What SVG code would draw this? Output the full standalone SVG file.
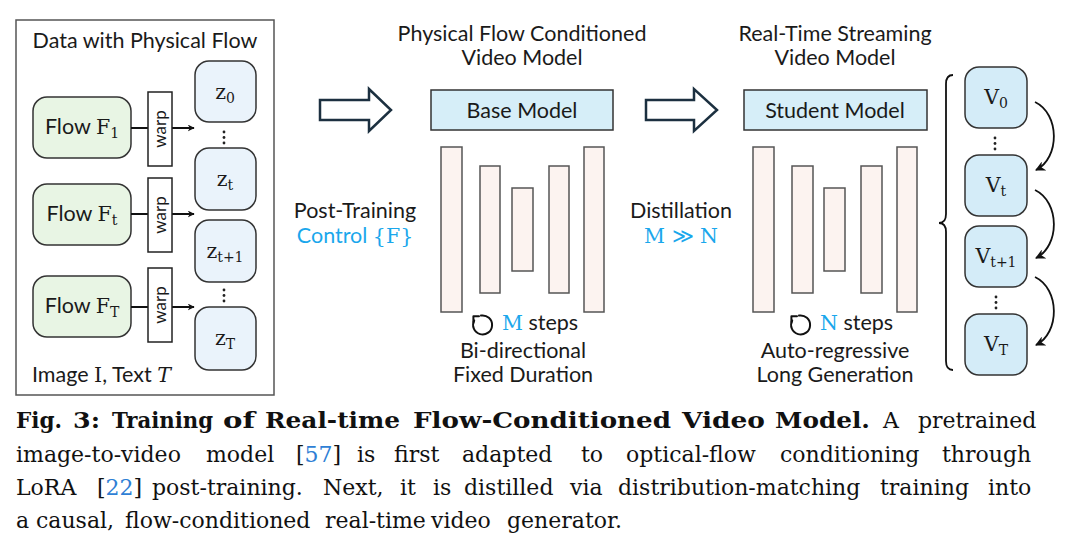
<svg xmlns="http://www.w3.org/2000/svg" width="1075" height="549" viewBox="0 0 1075 549">
<style>
.sans{font-family:Lato,"Open Sans",sans-serif;font-size:21.5px;fill:#1a1a1a}
.warpt{font-family:Lato,"Open Sans",sans-serif;font-size:17px;fill:#1a1a1a}
.math{font-family:"DejaVu Serif",serif;font-size:20.5px;fill:#1a1a1a}
.sub{font-size:14px}
.blue{fill:#1aa7ec}
.cap{font-family:"DejaVu Serif",serif;font-size:22px;fill:#111}
.capb{font-family:"DejaVu Serif",serif;font-size:22px;font-weight:bold;fill:#111}
.cite{fill:#2f7fd5}
.flow{fill:#e8f5e4;stroke:#333;stroke-width:1.5}
.zbox{fill:#eaf3fb;stroke:#333;stroke-width:1.5}
.vbox{fill:#d4ecf8;stroke:#333;stroke-width:1.5}
.warp{fill:#fff;stroke:#222;stroke-width:1.5}
.model{fill:#d6eef8;stroke:#333;stroke-width:1.5}
.bar{fill:#fcf3f0;stroke:#555;stroke-width:1.5}
.hollow{fill:#fff;stroke:#1c3040;stroke-width:2.5;stroke-linejoin:miter}
.line{fill:none;stroke:#111;stroke-width:1.8}
.dot{fill:#222}
.icon{fill:none;stroke:#111;stroke-width:2;stroke-linecap:round;stroke-linejoin:round}
</style>
<defs>
<marker id="ah" viewBox="0 0 10 10" refX="9" refY="5" markerWidth="7" markerHeight="7" orient="auto" markerUnits="userSpaceOnUse">
<path d="M0,0 L10,5 L0,10 L3,5 z" fill="#111"/>
</marker>
<marker id="ah2" viewBox="0 0 10 10" refX="9" refY="5" markerWidth="10" markerHeight="10" orient="auto" markerUnits="userSpaceOnUse">
<path d="M0,0 L10,5 L0,10 L3,5 z" fill="#111"/>
</marker>
</defs>
<rect width="1075" height="549" fill="#fff"/>

<g id="data-panel">
<rect x="16" y="20" width="258" height="375" fill="none" stroke="#555" stroke-width="1.5"/>
<text class="sans" x="145" y="48" text-anchor="middle">Data with Physical Flow</text>
<text x="32" y="382" class="sans">Image <tspan class="math">I</tspan>, Text <tspan class="math" font-style="italic">T</tspan></text>
</g>

<g id="flow-1">
<rect class="flow" x="33" y="97" width="98" height="61" rx="14"/>
<text x="82" y="134" text-anchor="middle"><tspan class="sans">Flow </tspan><tspan class="math">F</tspan><tspan class="math sub" dy="4">1</tspan></text>
</g>
<g id="flow-t">
<rect class="flow" x="33" y="184" width="98" height="61" rx="14"/>
<text x="82" y="221" text-anchor="middle"><tspan class="sans">Flow </tspan><tspan class="math">F</tspan><tspan class="math sub" dy="4">t</tspan></text>
</g>
<g id="flow-T">
<rect class="flow" x="33" y="276" width="98" height="61" rx="14"/>
<text x="82" y="313" text-anchor="middle"><tspan class="sans">Flow </tspan><tspan class="math">F</tspan><tspan class="math sub" dy="4">T</tspan></text>
</g>

<g id="connectors">
<line class="line" x1="131" y1="128" x2="194" y2="128" marker-end="url(#ah)"/>
<line class="line" x1="131" y1="214" x2="194" y2="214" marker-end="url(#ah)"/>
<line class="line" x1="131" y1="307" x2="194" y2="307" marker-end="url(#ah)"/>
<path class="line" d="M1035,102 C1060,114 1060,158 1036,170" marker-end="url(#ah2)"/>
<path class="line" d="M1035,190 C1060,202 1060,246 1036,258" marker-end="url(#ah2)"/>
<path class="line" d="M1035,277 C1060,289 1060,333 1036,345" marker-end="url(#ah2)"/>
<polygon class="hollow" points="320,100 369,100 369,89 391,110 369,131 369,120 320,120"/>
<polygon class="hollow" points="646,100 694,100 694,89 717,110 694,131 694,120 646,120"/>
</g>

<g id="warp-1">
<rect class="warp" x="148" y="92" width="24" height="74"/>
<text class="warpt" transform="translate(166,129) rotate(-90)" text-anchor="middle">warp</text>
</g>
<g id="warp-t">
<rect class="warp" x="148" y="178" width="24" height="74"/>
<text class="warpt" transform="translate(166,215) rotate(-90)" text-anchor="middle">warp</text>
</g>
<g id="warp-T">
<rect class="warp" x="148" y="268" width="24" height="74"/>
<text class="warpt" transform="translate(166,305) rotate(-90)" text-anchor="middle">warp</text>
</g>

<g id="z-0">
<rect class="zbox" x="195" y="61" width="61" height="61" rx="14"/>
<text x="225" y="99" text-anchor="middle"><tspan class="math">z</tspan><tspan class="math sub" dy="4">0</tspan></text>
</g>
<g id="z-dots1"><circle class="dot" cx="224" cy="132" r="1.4"/><circle class="dot" cx="224" cy="137.5" r="1.4"/><circle class="dot" cx="224" cy="143" r="1.4"/></g>
<g id="z-t">
<rect class="zbox" x="195" y="148" width="61" height="62" rx="14"/>
<text x="225" y="186" text-anchor="middle"><tspan class="math">z</tspan><tspan class="math sub" dy="4">t</tspan></text>
</g>
<g id="z-t1">
<rect class="zbox" x="195" y="220" width="61" height="62" rx="14"/>
<text x="225" y="258" text-anchor="middle"><tspan class="math">z</tspan><tspan class="math sub" dy="4">t+1</tspan></text>
</g>
<g id="z-dots2"><circle class="dot" cx="224" cy="290" r="1.4"/><circle class="dot" cx="224" cy="295.5" r="1.4"/><circle class="dot" cx="224" cy="301" r="1.4"/></g>
<g id="z-T">
<rect class="zbox" x="195" y="307" width="61" height="63" rx="14"/>
<text x="225" y="345" text-anchor="middle"><tspan class="math">z</tspan><tspan class="math sub" dy="4">T</tspan></text>
</g>

<g id="post-training-label">
<text class="sans" x="355" y="218" text-anchor="middle">Post-Training</text>
<text x="355" y="243" text-anchor="middle"><tspan class="sans blue">Control </tspan><tspan class="math blue">{F}</tspan></text>
</g>

<g id="base-model">
<text class="sans" x="522" y="41" text-anchor="middle">Physical Flow Conditioned</text>
<text class="sans" x="522" y="65" text-anchor="middle">Video Model</text>
<rect class="model" x="431" y="90" width="182" height="40"/>
<text class="sans" x="522" y="118" text-anchor="middle">Base Model</text>
<rect class="bar" x="441" y="147" width="21" height="165"/>
<rect class="bar" x="480" y="166" width="20" height="127"/>
<rect class="bar" x="512" y="188" width="21" height="83"/>
<rect class="bar" x="549" y="166" width="20" height="127"/>
<rect class="bar" x="584" y="147" width="20" height="165"/>
<path class="icon" d="M481,315.6 A9.5,9.5 0 1 1 474.2,320.5"/>
<polyline class="icon" points="479,316.2 473.4,316.2 473.4,322"/>
<text x="502" y="330"><tspan class="math blue">M</tspan><tspan class="sans"> steps</tspan></text>
<text class="sans" x="523" y="358" text-anchor="middle">Bi-directional</text>
<text class="sans" x="523" y="382" text-anchor="middle">Fixed Duration</text>
</g>

<g id="distillation-label">
<text class="sans" x="681" y="218" text-anchor="middle">Distillation</text>
<text class="math blue" x="681" y="243" text-anchor="middle">M ≫ N</text>
</g>

<g id="student-model">
<text class="sans" x="835" y="41" text-anchor="middle">Real-Time Streaming</text>
<text class="sans" x="835" y="65" text-anchor="middle">Video Model</text>
<rect class="model" x="744" y="90" width="183" height="40"/>
<text class="sans" x="835" y="118" text-anchor="middle">Student Model</text>
<rect class="bar" x="753" y="147" width="21" height="165"/>
<rect class="bar" x="792" y="166" width="21" height="127"/>
<rect class="bar" x="824" y="188" width="21" height="83"/>
<rect class="bar" x="861" y="166" width="21" height="127"/>
<rect class="bar" x="897" y="147" width="20" height="165"/>
<path class="icon" d="M799,315.6 A9.5,9.5 0 1 1 792.2,320.5"/>
<polyline class="icon" points="797,316.2 791.4,316.2 791.4,322"/>
<text x="820" y="330"><tspan class="math blue">N</tspan><tspan class="sans"> steps</tspan></text>
<text class="sans" x="835" y="358" text-anchor="middle">Auto-regressive</text>
<text class="sans" x="835" y="382" text-anchor="middle">Long Generation</text>
</g>

<g id="brace">
<path d="M953,75 Q946,75 946,84 L946,214 Q946,223 939,223 Q946,223 946,232 L946,361 Q946,370 953,370" fill="none" stroke="#111" stroke-width="1.8"/>
</g>

<g id="v-0">
<rect class="vbox" x="965" y="67" width="62" height="61" rx="14"/>
<text x="996" y="104" text-anchor="middle"><tspan class="math">V</tspan><tspan class="math sub" dy="4">0</tspan></text>
</g>
<g id="v-dots1"><circle class="dot" cx="995" cy="138" r="1.4"/><circle class="dot" cx="995" cy="143.5" r="1.4"/><circle class="dot" cx="995" cy="149" r="1.4"/></g>
<g id="v-t">
<rect class="vbox" x="965" y="155" width="62" height="61" rx="14"/>
<text x="996" y="192" text-anchor="middle"><tspan class="math">V</tspan><tspan class="math sub" dy="4">t</tspan></text>
</g>
<g id="v-t1">
<rect class="vbox" x="965" y="226" width="62" height="61" rx="14"/>
<text x="996" y="263" text-anchor="middle"><tspan class="math">V</tspan><tspan class="math sub" dy="4">t+1</tspan></text>
</g>
<g id="v-dots2"><circle class="dot" cx="996" cy="297" r="1.4"/><circle class="dot" cx="996" cy="302.5" r="1.4"/><circle class="dot" cx="996" cy="308" r="1.4"/></g>
<g id="v-T">
<rect class="vbox" x="965" y="314" width="62" height="61" rx="14"/>
<text x="996" y="351" text-anchor="middle"><tspan class="math">V</tspan><tspan class="math sub" dy="4">T</tspan></text>
</g>

<g id="caption">
<text class="capb" x="16" y="428" textLength="46" lengthAdjust="spacingAndGlyphs">Fig.</text>
<text class="capb" x="73" y="428" textLength="27" lengthAdjust="spacingAndGlyphs">3:</text>
<text class="capb" x="112" y="428" textLength="101" lengthAdjust="spacingAndGlyphs">Training</text>
<text class="capb" x="223" y="428" textLength="32" lengthAdjust="spacingAndGlyphs">of</text>
<text class="capb" x="265" y="428" textLength="135" lengthAdjust="spacingAndGlyphs">Real-time</text>
<text class="capb" x="413" y="428" textLength="258" lengthAdjust="spacingAndGlyphs">Flow-Conditioned</text>
<text class="capb" x="682" y="428" textLength="83" lengthAdjust="spacingAndGlyphs">Video</text>
<text class="capb" x="775" y="428" textLength="95" lengthAdjust="spacingAndGlyphs">Model.</text>
<text class="cap" y="428"><tspan x="883">A</tspan><tspan x="918">pretrained</tspan></text>
<text class="cap" y="462"><tspan x="16">image-to-video</tspan><tspan x="206">model</tspan><tspan x="296">[<tspan class="cite">57</tspan>]</tspan><tspan x="357">is</tspan><tspan x="394">first</tspan><tspan x="462">adapted</tspan><tspan x="581">to</tspan><tspan x="626">optical-flow</tspan><tspan x="780">conditioning</tspan><tspan x="942">through</tspan></text>
<text class="cap" y="495"><tspan x="16">LoRA</tspan><tspan x="97">[<tspan class="cite">22</tspan>]</tspan><tspan x="152">post-training.</tspan><tspan x="323">Next,</tspan><tspan x="400">it</tspan><tspan x="433">is</tspan><tspan x="464">distilled</tspan><tspan x="570">via</tspan><tspan x="618">distribution-matching</tspan><tspan x="880">training</tspan><tspan x="988">into</tspan></text>
<text class="cap" y="528"><tspan x="16">a</tspan><tspan x="36">causal,</tspan><tspan x="125">flow-conditioned</tspan><tspan x="325">real-time</tspan><tspan x="431">video</tspan><tspan x="507">generator.</tspan></text>
</g>
</svg>
